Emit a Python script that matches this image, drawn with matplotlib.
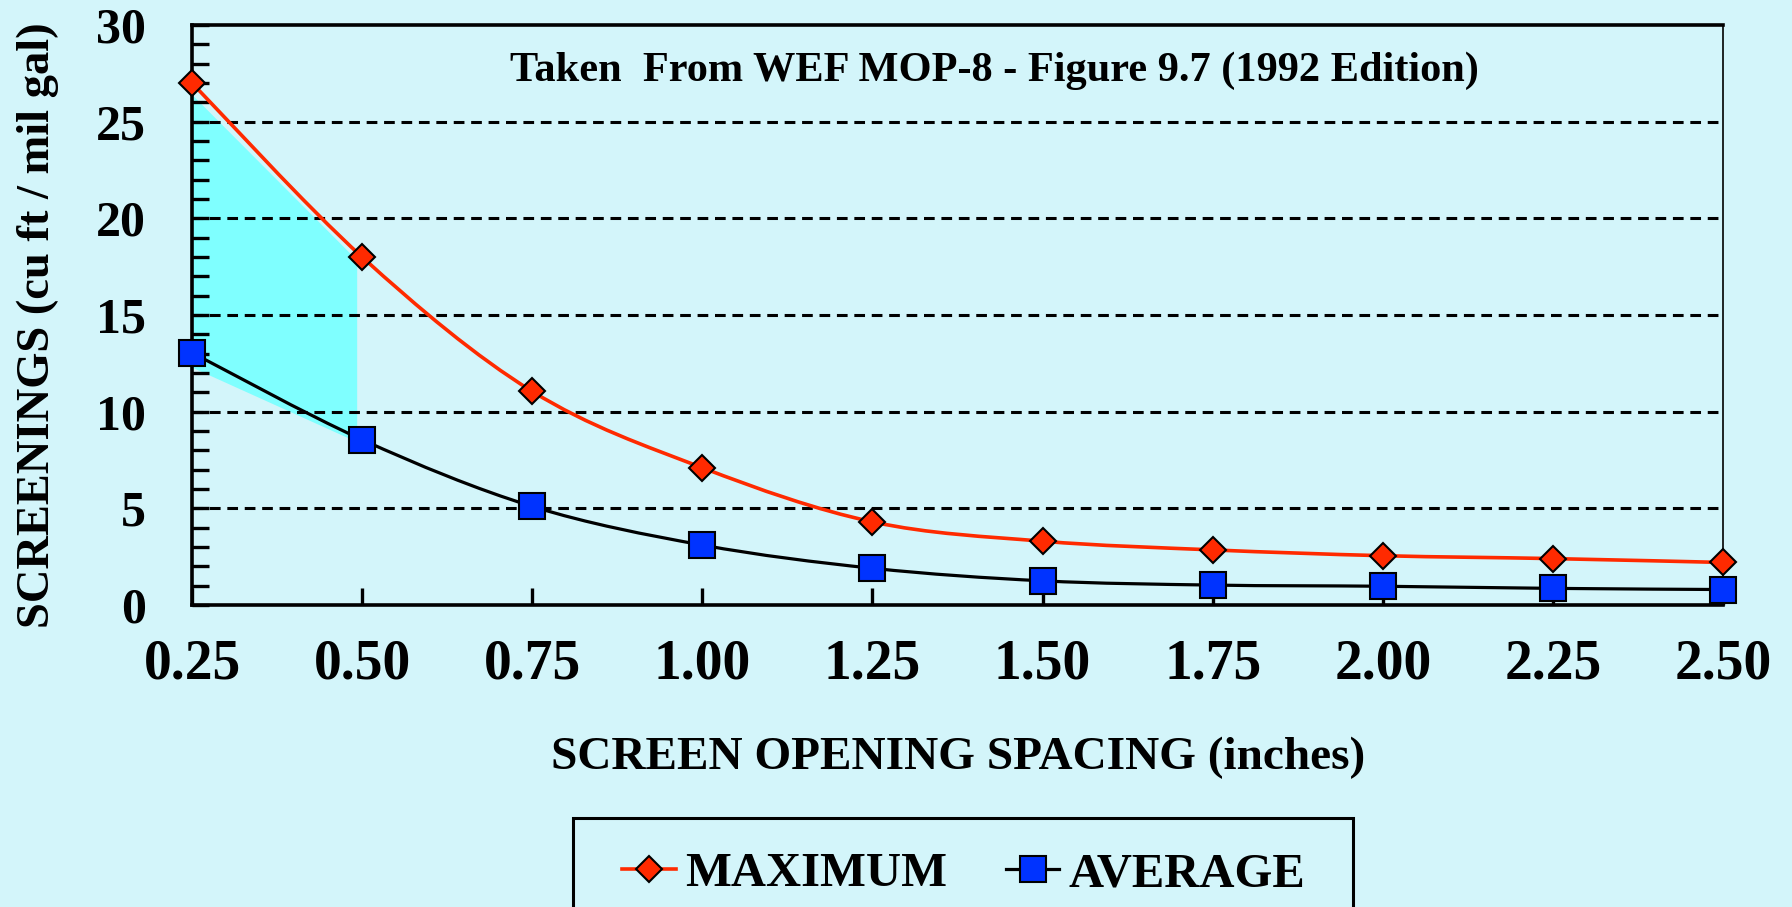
import matplotlib
matplotlib.use("Agg")
import matplotlib.pyplot as plt
import numpy as np
from matplotlib.path import Path
from matplotlib.patches import PathPatch, Rectangle
from matplotlib.lines import Line2D

# ---- data ----
spacing = [0.25, 0.50, 0.75, 1.00, 1.25, 1.50, 1.75, 2.00, 2.25, 2.50]
x_labels = ["0.25", "0.50", "0.75", "1.00", "1.25", "1.50", "1.75", "2.00", "2.25", "2.50"]
maximum = [27.0, 18.0, 11.05, 7.1, 4.3, 3.3, 2.85, 2.55, 2.4, 2.2]
average = [13.05, 8.55, 5.1, 3.1, 1.9, 1.25, 1.03, 0.97, 0.86, 0.8]
shade_x = [0.25, 0.492]
shade_low = [12.3, 8.45]
shade_high = [26.4, 17.85]
y_ticks = [0, 5, 10, 15, 20, 25, 30]

BG = "#d3f5fa"
RED = "#ff2a00"
BLUE = "#0033ff"
FILL = "#7fffff"
FONT = "Liberation Serif"

W, H = 1792, 907
fig = plt.figure(figsize=(W / 100, H / 100), dpi=100, facecolor=BG)
L, R, T, B = 192, 1723, 25, 605
ax = fig.add_axes([L / W, 1 - B / H, (R - L) / W, (B - T) / H])
ax.set_facecolor(BG)
ax.set_xlim(0.25, 2.5)
ax.set_ylim(0, 30)


def smooth_path(xs, ys):
    pts = np.column_stack([xs, ys]).astype(float)
    n = len(pts)
    verts = [pts[0]]
    codes = [Path.MOVETO]
    for i in range(n - 1):
        p0 = pts[i - 1] if i > 0 else pts[i]
        p1 = pts[i]
        p2 = pts[i + 1]
        p3 = pts[i + 2] if i + 2 < n else pts[i + 1]
        c1 = p1 + (p2 - p0) / 6.0
        c2 = p2 - (p3 - p1) / 6.0
        verts += [c1, c2, p2]
        codes += [Path.CURVE4] * 3
    return Path(verts, codes)


# shaded region
ax.fill_between(shade_x, shade_low, shade_high, color=FILL, lw=0, zorder=1)

# gridlines
for yv in y_ticks[1:-1]:
    ax.axhline(yv, color="black", lw=2.2, ls=(0, (3.5, 2.2)), zorder=2)

# smoothed lines
ax.add_patch(PathPatch(smooth_path(spacing, maximum), fill=False, edgecolor=RED, lw=2.6, zorder=3,
                       clip_on=False))
ax.add_patch(PathPatch(smooth_path(spacing, average), fill=False, edgecolor="black", lw=2.3, zorder=3,
                       clip_on=False))
ax.plot(spacing, maximum, ls="none", marker="D", ms=13, mfc=RED, mec="black", mew=1.5,
        zorder=5, clip_on=False)
ax.plot(spacing, average, ls="none", marker="s", ms=18.5, mfc=BLUE, mec="black", mew=1.5,
        zorder=5, clip_on=False)

# spines
for s in ["left", "bottom", "top"]:
    ax.spines[s].set_linewidth(2.6)
    ax.spines[s].set_color("black")
ax.spines["right"].set_linewidth(1.2)
ax.spines["right"].set_color("black")
for s in ax.spines.values():
    s.set_zorder(4)

# ticks
ax.set_xticks(spacing)
ax.set_xticklabels(x_labels)
ax.set_yticks(y_ticks)
ax.set_yticks(np.arange(0, 31, 1), minor=True)
ax.tick_params(axis="y", which="both", direction="in", length=12, width=2.4, right=False,
               labelsize=36, pad=33)
ax.tick_params(axis="x", which="both", direction="in", length=12, width=2.4, top=False,
               labelsize=40, pad=24)
for lab in ax.get_xticklabels() + ax.get_yticklabels():
    lab.set_fontfamily(FONT)
    lab.set_fontweight("bold")

ax.set_xlabel("SCREEN OPENING SPACING (inches)", fontfamily=FONT, fontweight="bold", fontsize=34)
ax.xaxis.set_label_coords((958 - L) / (R - L), -(737 - B) / (B - T))
ax.set_ylabel("SCREENINGS (cu ft / mil gal)", fontfamily=FONT, fontweight="bold", fontsize=33.5)
ax.yaxis.set_label_coords(-(L - 59) / (R - L), (B - 325) / (B - T))

ax.text((994 - L) / (R - L), (B - 71) / (B - T), "Taken  From WEF MOP-8 - Figure 9.7 (1992 Edition)",
        transform=ax.transAxes, ha="center", va="center", fontfamily=FONT, fontweight="bold",
        fontsize=30.5, zorder=6)

# legend box
fig.patches.append(Rectangle((573 / W, -0.05), (1353 - 573) / W, 0.05 + 1 - 818 / H,
                             transform=fig.transFigure, facecolor=BG, edgecolor="black", lw=2.2))
handles = [Line2D([], [], color=RED, lw=2.6, marker="D", ms=13, mfc=RED, mec="black", mew=1.5),
           Line2D([], [], color="black", lw=2.3, marker="s", ms=18.5, mfc=BLUE, mec="black", mew=1.5)]
fig.legend(handles, ["MAXIMUM", "AVERAGE"], loc="center", bbox_to_anchor=(964 / W, 1 - 874 / H),
           ncol=2, frameon=False, handlelength=1.1, handletextpad=0.2, columnspacing=1.2,
           prop={"family": FONT, "weight": "bold", "size": 35})

fig.savefig("out.png", dpi=100, facecolor=BG)
